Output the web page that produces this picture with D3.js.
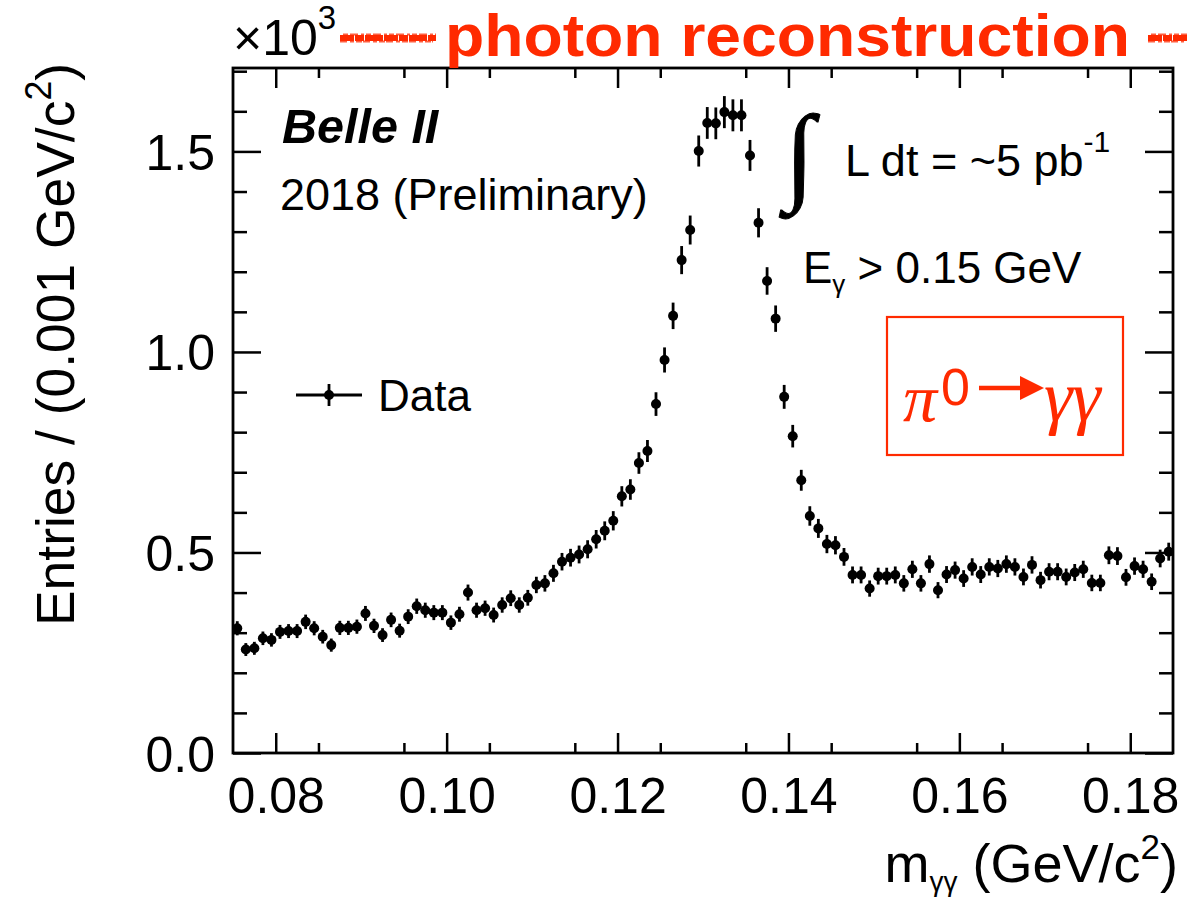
<!DOCTYPE html>
<html>
<head>
<meta charset="utf-8">
<script src="https://cdn.jsdelivr.net/npm/d3@7"></script>
<style>
  body { margin: 0; background: #fff; }
  svg { display: block; }
  text { font-family: "Liberation Sans", Arial, Helvetica, sans-serif; fill: #000; }
</style>
</head>
<body>
<svg id="chart" width="1187" height="901"></svg>
<script>
// Diphoton invariant mass histogram, 1 MeV bins from 0.075 to 0.185 GeV/c^2
const binLow = 0.075;
const binWidth = 0.001;
// Entries per bin, in units of 10^3
const entries = [
  0.311, 0.258, 0.261, 0.286, 0.282, 0.302, 0.304, 0.304, 0.327, 0.311,
  0.290, 0.269, 0.312, 0.312, 0.315, 0.348, 0.317, 0.294, 0.332, 0.305,
  0.340, 0.366, 0.356, 0.350, 0.350, 0.325, 0.346, 0.400, 0.356, 0.361,
  0.344, 0.369, 0.386, 0.369, 0.387, 0.419, 0.423, 0.448, 0.477, 0.487,
  0.495, 0.508, 0.533, 0.554, 0.579, 0.640, 0.657, 0.723, 0.753, 0.870,
  0.980, 1.090, 1.229, 1.304, 1.501, 1.571, 1.570, 1.598, 1.590, 1.590,
  1.490, 1.322, 1.177, 1.083, 0.888, 0.790, 0.680, 0.591, 0.560, 0.521,
  0.518, 0.489, 0.444, 0.444, 0.410, 0.441, 0.441, 0.444, 0.423, 0.458,
  0.423, 0.471, 0.406, 0.445, 0.456, 0.435, 0.464, 0.445, 0.464, 0.460,
  0.471, 0.464, 0.439, 0.469, 0.431, 0.452, 0.452, 0.439, 0.450, 0.458,
  0.424, 0.424, 0.493, 0.491, 0.438, 0.466, 0.458, 0.427, 0.485, 0.502
];
const xMajorTicks = [0.08, 0.10, 0.12, 0.14, 0.16, 0.18];
const xTickLabels = ["0.08", "0.10", "0.12", "0.14", "0.16", "0.18"];
const yMajorTicks = [0.0, 0.5, 1.0, 1.5];
const yTickLabels = ["0.0", "0.5", "1.0", "1.5"];

const RED = "#ff2a00";
const svg = d3.select("#chart");

const frame = { left: 233, right: 1173, top: 68, bottom: 753 };
const x = d3.scaleLinear().domain([0.075, 0.185]).range([frame.left, frame.right]);
const y = d3.scaleLinear().domain([0, 1.708]).range([frame.bottom, frame.top]);

const xMinor = d3.range(0.085, 0.1801, 0.005).filter(v => Math.abs(Math.round(v * 100) - v * 100) > 1e-6);
const yMinor = d3.range(0.1, 1.701, 0.1).filter(v => Math.abs(Math.round(v * 2) - v * 2) > 1e-6);

// ---- axes (ticks point into the frame, mirrored on opposite sides)
function tickAxis(axisFn, scale, values, size, labels, translate) {
  const ax = axisFn(scale).tickValues(values).tickSize(-size).tickPadding(10)
    .tickFormat(labels ? (d, i) => labels[i] : () => "");
  const g = svg.append("g").attr("transform", translate).call(ax);
  g.select(".domain").remove();
  g.selectAll(".tick line").attr("stroke", "#000").attr("stroke-width", 2.5);
  return g;
}
const gxb = tickAxis(d3.axisBottom, x, xMajorTicks, 20, xTickLabels, `translate(0,${frame.bottom})`);
tickAxis(d3.axisBottom, x, xMinor, 10, null, `translate(0,${frame.bottom})`);
tickAxis(d3.axisTop, x, xMajorTicks, 20, null, `translate(0,${frame.top})`);
tickAxis(d3.axisTop, x, xMinor, 10, null, `translate(0,${frame.top})`);
const gyl = tickAxis(d3.axisLeft, y, yMajorTicks, 28, yTickLabels, `translate(${frame.left},0)`);
tickAxis(d3.axisLeft, y, yMinor, 14, null, `translate(${frame.left},0)`);
tickAxis(d3.axisRight, y, yMajorTicks, 28, null, `translate(${frame.right},0)`);
tickAxis(d3.axisRight, y, yMinor, 14, null, `translate(${frame.right},0)`);

gxb.selectAll(".tick text").attr("font-size", 50).attr("dy", "0.71em").attr("y", 24)
  .style("font-family", "Liberation Sans, Arial, sans-serif").attr("fill", "#000");
gyl.selectAll(".tick text").attr("font-size", 50).attr("x", -18).attr("dy", "0.36em")
  .style("font-family", "Liberation Sans, Arial, sans-serif").attr("fill", "#000");

// frame
svg.append("rect")
  .attr("x", frame.left).attr("y", frame.top)
  .attr("width", frame.right - frame.left).attr("height", frame.bottom - frame.top)
  .attr("fill", "none").attr("stroke", "#000").attr("stroke-width", 2.8);

// ---- data points with Poisson errors
const pts = entries.map((v, i) => {
  const lo = binLow + i * binWidth;
  const err = Math.sqrt(v * 1000) / 1000;
  return { lo, hi: lo + binWidth, c: lo + binWidth / 2, v, err };
});
const gData = svg.append("g");
gData.selectAll("line.ev").data(pts).join("line")
  .attr("x1", d => x(d.c)).attr("x2", d => x(d.c))
  .attr("y1", d => y(d.v - d.err)).attr("y2", d => y(d.v + d.err))
  .attr("stroke", "#000").attr("stroke-width", 2.8);
gData.selectAll("line.eh").data(pts).join("line")
  .attr("x1", d => x(d.lo)).attr("x2", d => x(d.hi))
  .attr("y1", d => y(d.v)).attr("y2", d => y(d.v))
  .attr("stroke", "#000").attr("stroke-width", 2.8);
gData.selectAll("circle").data(pts).join("circle")
  .attr("cx", d => x(d.c)).attr("cy", d => y(d.v)).attr("r", 5)
  .attr("fill", "#000");

// ---- axis titles
const xt = svg.append("text").attr("x", 1178).attr("y", 882)
  .attr("text-anchor", "end").attr("font-size", 54);
xt.append("tspan").text("m");
xt.append("tspan").text("γγ").attr("font-size", 28).attr("dy", 9);
xt.append("tspan").text(" (GeV/c").attr("dy", -9);
xt.append("tspan").text("2").attr("font-size", 35).attr("dy", -23);
xt.append("tspan").text(")").attr("dy", 23);

const yt = svg.append("text").attr("transform", "translate(74,626) rotate(-90)")
  .attr("text-anchor", "start").attr("font-size", 54)
  .attr("textLength", 563).attr("lengthAdjust", "spacingAndGlyphs");
yt.append("tspan").text("Entries / (0.001 GeV/c");
yt.append("tspan").text("2").attr("font-size", 36).attr("dy", -23);
yt.append("tspan").text(")").attr("dy", 23);

// exponent label
const ex = svg.append("text").attr("x", 233).attr("y", 55).attr("font-size", 50);
ex.append("tspan").text("×10");
ex.append("tspan").text("3").attr("font-size", 33).attr("dy", -26);

// ---- annotations
svg.append("text").attr("x", 282).attr("y", 143).attr("font-size", 48.5)
  .attr("font-weight", "bold").attr("font-style", "italic").text("Belle II");
svg.append("text").attr("x", 280).attr("y", 210).attr("font-size", 45)
  .text("2018 (Preliminary)");

svg.append("text").attr("x", 785).attr("y", 190).attr("font-size", 108)
  .attr("stroke", "#000").attr("stroke-width", 1)
  .style("font-family", "Liberation Serif, Times New Roman, serif").text("∫");
const lum = svg.append("text").attr("x", 845).attr("y", 176).attr("font-size", 45);
lum.append("tspan").text("L dt = ~5 pb");
lum.append("tspan").text("-1").attr("font-size", 30).attr("dy", -24);

const eg = svg.append("text").attr("x", 803).attr("y", 283).attr("font-size", 44);
eg.append("tspan").text("E");
eg.append("tspan").text("γ").attr("font-size", 26).attr("dy", 10);
eg.append("tspan").text(" > 0.15 GeV").attr("dy", -10);

// legend
const lg = svg.append("g");
lg.append("line").attr("x1", 296).attr("x2", 362).attr("y1", 395).attr("y2", 395)
  .attr("stroke", "#000").attr("stroke-width", 2.8);
lg.append("line").attr("x1", 329).attr("x2", 329).attr("y1", 384).attr("y2", 406)
  .attr("stroke", "#000").attr("stroke-width", 2.8);
lg.append("circle").attr("cx", 329).attr("cy", 395).attr("r", 5).attr("fill", "#000");
lg.append("text").attr("x", 378).attr("y", 411).attr("font-size", 44).text("Data");

// decay label in a red box
svg.append("rect").attr("x", 887).attr("y", 317).attr("width", 236).attr("height", 138)
  .attr("fill", "none").attr("stroke", RED).attr("stroke-width", 2.2);
const serif = "Liberation Serif, Times New Roman, serif";
svg.append("text").attr("x", 903).attr("y", 421).attr("font-size", 68).attr("font-style", "italic")
  .style("font-family", serif).style("fill", RED).text("π");
svg.append("text").attr("x", 941).attr("y", 405).attr("font-size", 52)
  .style("fill", RED).text("0");
svg.append("text").attr("x", 1044).attr("y", 421).attr("font-size", 72).attr("font-style", "italic")
  .style("font-family", serif).style("fill", RED).text("γγ");
svg.append("line").attr("x1", 979).attr("x2", 1024).attr("y1", 388).attr("y2", 388)
  .attr("stroke", RED).attr("stroke-width", 4.5);
svg.append("path").attr("d", "M1020,376 L1044,388 L1020,400 Z").attr("fill", RED);

// ---- heading with hand-drawn red strokes either side
svg.append("text").attr("x", 445).attr("y", 56).attr("font-size", 59)
  .attr("textLength", 685).attr("lengthAdjust", "spacingAndGlyphs")
  .attr("font-weight", "bold").style("fill", RED).text("photon reconstruction");
const scribble = svg.append("g").attr("stroke", RED).attr("fill", "none");
[[340, 436], [1148, 1187]].forEach(([a, b]) => {
  scribble.append("line").attr("x1", a).attr("x2", b).attr("y1", 38).attr("y2", 38)
    .attr("stroke-width", 6).attr("stroke-dasharray", "14 1 9 1 18 1");
  scribble.append("line").attr("x1", a + 3).attr("x2", b).attr("y1", 34.5).attr("y2", 34.5)
    .attr("stroke-width", 2).attr("stroke-opacity", 0.75).attr("stroke-dasharray", "5 2 8 3 3 2");
  scribble.append("line").attr("x1", a).attr("x2", b - 3).attr("y1", 41.5).attr("y2", 41.5)
    .attr("stroke-width", 2).attr("stroke-opacity", 0.75).attr("stroke-dasharray", "7 3 4 2 6 1");
});
</script>
</body>
</html>
